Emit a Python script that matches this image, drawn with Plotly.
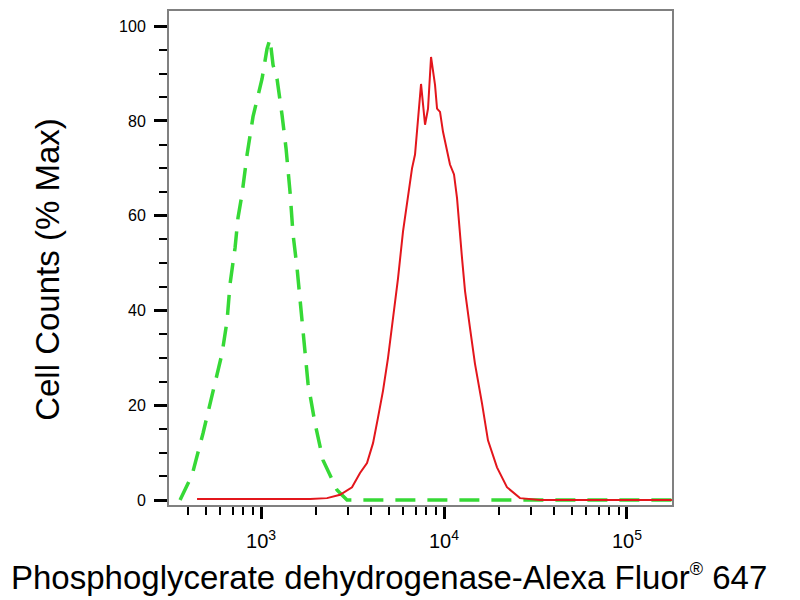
"""
Flow cytometry overlay histogram: PHGDH staining (red) vs isotype control (green dashed)
"""

import plotly.graph_objects as go

# ── Data ──────────────────────────────────────────────────────────────────
control_x = [361, 420, 482, 547, 612, 652, 677, 721, 748, 787, 839, 904, 1013,
             1078, 1120, 1163, 1223, 1302, 1370, 1440, 1496, 1573, 1654, 1718,
             1806, 1972, 2182, 2602, 2951, 176000]
control_y = [0, 5.3, 14.1, 23.1, 30.9, 37.8, 45.6, 53.2, 59.5, 64.5, 72.9, 80.9,
             88.9, 95.2, 97.3, 91.8, 88.9, 81.3, 74.2, 65.1, 56.1, 49.0, 39.9,
             32.1, 24.6, 16.2, 8.4, 2.1, 0, 0]

sample_x = [447, 1853, 2294, 2703, 3142, 3475, 3794, 4093, 4357, 4642, 4943,
            5264, 5606, 5970, 6357, 6686, 6943, 7211, 7489, 7875, 8178, 8493,
            8930, 9160, 9510, 9875, 10380, 10780, 11340, 11780, 12540, 13030,
            13870, 14760, 16130, 17390, 19480, 22080, 26010, 33480, 176000]
sample_y = [0.2, 0.2, 0.4, 1.1, 2.7, 5.7, 7.8, 12.0, 17.4, 23.1, 30.0, 38.4,
            46.8, 56.7, 64.5, 70.0, 72.9, 81.3, 87.8, 79.2, 82.6, 93.5, 87.6,
            82.6, 81.9, 77.7, 73.5, 70.8, 68.7, 63.7, 51.1, 44.1, 36.3, 28.8,
            20.4, 12.6, 6.9, 2.7, 0.4, 0, 0]

y_ticks = [0, 20, 40, 60, 80, 100]

# ── Style ─────────────────────────────────────────────────────────────────
FONT = "Liberation Sans, Arial, sans-serif"
C_RED = "#e3161c"
C_GREEN = "#36d936"
C_FRAME = "#808080"

fig = go.Figure()

fig.add_trace(go.Scatter(
    x=control_x, y=control_y, mode="lines",
    line=dict(color=C_GREEN, width=3.5, dash="20px,12px"),
    showlegend=False, hoverinfo="skip",
))
fig.add_trace(go.Scatter(
    x=sample_x, y=sample_y, mode="lines",
    line=dict(color=C_RED, width=2),
    showlegend=False, hoverinfo="skip",
))

# axis titles as annotations so they sit where the original does
fig.add_annotation(
    text="Phosphoglycerate dehydrogenase-Alexa Fluor"
         "<sup><span style='font-size:18px'>®</span></sup> 647",
    xref="paper", yref="paper", x=-160 / 503, y=-0.147,
    xanchor="left", yanchor="middle", showarrow=False,
    font=dict(family=FONT, size=33, color="black"),
)
fig.add_annotation(
    text="Cell Counts (% Max)",
    xref="paper", yref="paper", x=-0.2406, y=0.478,
    xanchor="center", yanchor="middle", textangle=-90, showarrow=False,
    font=dict(family=FONT, size=33, color="black"),
)

# page body has an 8px margin, so the figure is sized/offset to compensate
fig.update_layout(
    width=792, height=592,
    margin=dict(l=161, r=128, t=1, b=95),
    paper_bgcolor="white", plot_bgcolor="white",
    font=dict(family=FONT, color="black"),
    xaxis=dict(
        type="log", range=[2.497, 5.246],
        dtick=1, exponentformat="power",
        showgrid=False, zeroline=False,
        showline=True, mirror=True, linecolor=C_FRAME, linewidth=2,
        ticks="outside", ticklen=12, tickwidth=3, tickcolor="black",
        tickfont=dict(size=16, color="black"),
        ticklabelstandoff=6,
        minor=dict(dtick="D1", ticks="outside", ticklen=8, tickwidth=1.5,
                   tickcolor="black", showgrid=False),
    ),
    yaxis=dict(
        range=[-1.05, 103.2],
        tickvals=y_ticks,
        showgrid=False, zeroline=False,
        showline=True, mirror=True, linecolor=C_FRAME, linewidth=2,
        ticks="outside", ticklen=13, tickwidth=3, tickcolor="black",
        tickfont=dict(size=16, color="black"),
        ticklabelstandoff=5,
        minor=dict(dtick=5, ticks="outside", ticklen=8, tickwidth=1.5,
                   tickcolor="black", showgrid=False),
    ),
)

fig.write_html("out.html")
